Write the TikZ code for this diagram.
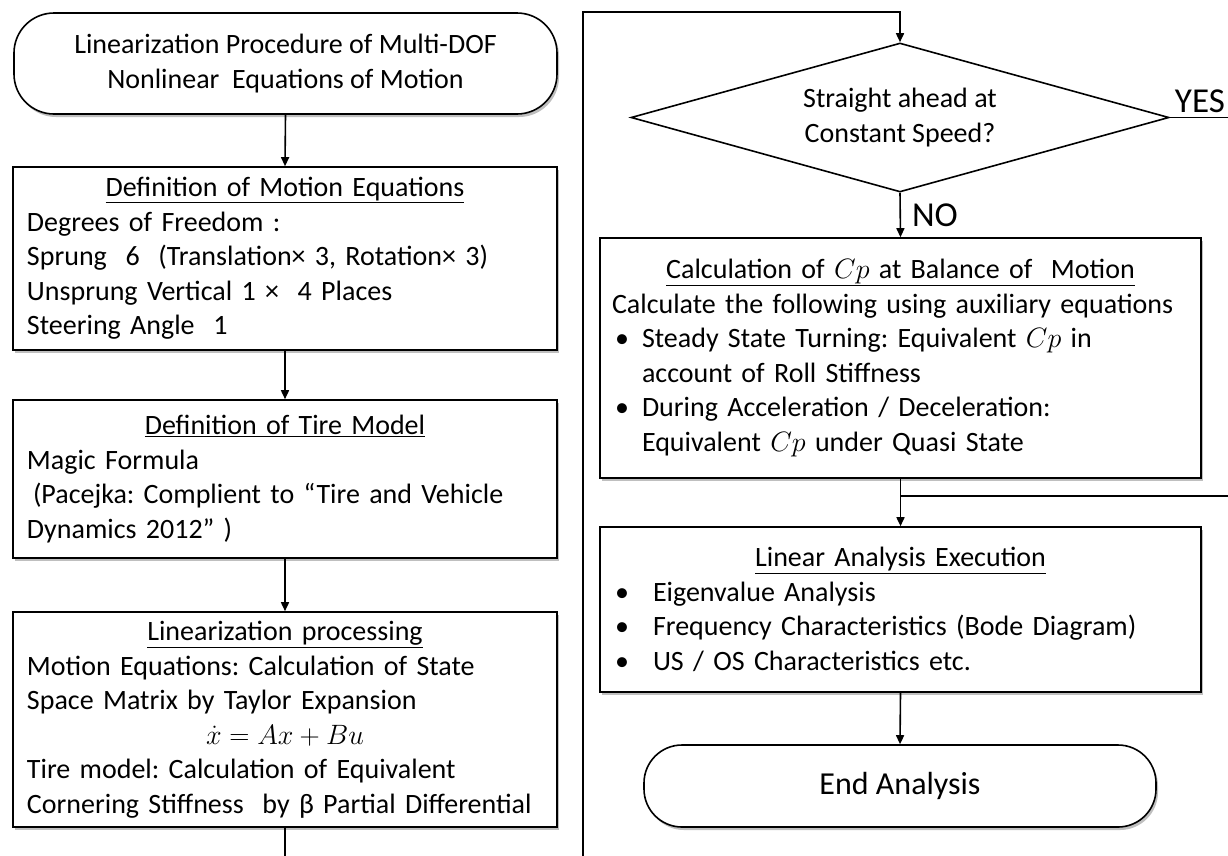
\RequirePackage{fix-cm}
\documentclass[tikz,border=0pt]{standalone}
\usepackage{fontspec}
\setmainfont{Carlito}
\usetikzlibrary{shapes.geometric,arrows.meta,shadows}
\frenchspacing
\begin{document}
\begin{tikzpicture}[x=1pt,y=-1pt,
  every node/.style={font=\fontsize{28}{34.5}\selectfont},
  ln/.style={line width=1.6pt},
  arr/.style={ln,-{Triangle[length=9pt,width=8pt]}},
  shd/.style={drop shadow={shadow xshift=2pt,shadow yshift=-3pt,opacity=0.25,fill=black}},
  procbox/.style={draw,ln,fill=white,shd,rectangle,inner ysep=0pt,align=left,anchor=center},
  leftbox/.style={procbox,inner xsep=14pt,text width=516pt,minimum width=544pt},
  rightbox/.style={procbox,inner xsep=12pt,text width=577pt,minimum width=601pt},
  termbox/.style={draw,ln,fill=white,shd,rounded corners=40pt,align=center,inner sep=0pt},
  bigtxt/.style={font=\fontsize{35}{40}\selectfont,inner sep=0pt}
]
\useasboundingbox (0,0) rectangle (1228,855);
\fill[white] (0,0) rectangle (1228,855);

% left column
\node[termbox,minimum width=543pt,minimum height=101pt] (t1) at (285.5,63.5)
  {Linearization Procedure of Multi-DOF\\Nonlinear\ \ Equations of Motion};

\node[leftbox,minimum height=183pt] (b1) at (285,258.5)
  {\makebox[\linewidth]{\underline{Definition of Motion Equations}}\\
   Degrees of Freedom\ :\\
   Sprung\ \ 6\ \ (Translation× 3, Rotation× 3)\\
   Unsprung Vertical 1 ×\ \ 4 Places\\
   Steering Angle\ \ 1};

\node[leftbox,minimum height=158pt] (b2) at (285,479)
  {\makebox[\linewidth]{\underline{Definition of Tire Model}}\\
   Magic Formula\\
   \hspace*{6pt}(Pacejka: Complient to “Tire and Vehicle\\
   Dynamics 2012” )};

\node[leftbox,minimum height=215pt] (b3) at (285,719.5)
  {\makebox[\linewidth]{\underline{Linearization processing}}\\
   Motion Equations: Calculation of State\\
   Space Matrix by Taylor Expansion\\
   \makebox[\linewidth]{$\dot{x} = Ax + Bu$}\\
   Tire model: Calculation of Equivalent\\
   Cornering Stiffness\ \ by β Partial Differential};

\draw[arr] (t1.south) -- (b1.north);
\draw[arr] (b1.south) -- (b2.north);
\draw[arr] (b2.south) -- (b3.north);
\coordinate (lb) at (285,858);
\draw[ln] (b3.south) -- (lb);

% right column
\coordinate (rb) at (583,858);
\coordinate (tl) at (583,12);

\node[draw,ln,diamond,aspect=3.6,minimum width=538pt,minimum height=149pt,
      inner sep=0pt,align=center,fill=white] (dia) at (900,117.5)
  {Straight ahead at\\Constant Speed?};

\draw[arr] (rb) -- (tl) -| (dia.north);

\node[rightbox,minimum height=240pt] (b4) at (900.5,358)
  {\makebox[\linewidth]{\underline{Calculation of $Cp$ at Balance of\ \ Motion}}\\
   Calculate the following using auxiliary equations\\
   \hspace*{3pt}\makebox[27pt][l]{•}Steady State Turning: Equivalent $Cp$ in\\
   \hspace*{30pt}account of Roll Stiffness\\
   \hspace*{3pt}\makebox[27pt][l]{•}During Acceleration / Deceleration:\\
   \hspace*{30pt}Equivalent $Cp$ under Quasi State};

\node[rightbox,minimum height=165pt] (b5) at (900.5,609.5)
  {\makebox[\linewidth]{\underline{Linear Analysis Execution}}\\
   \hspace*{3pt}\makebox[38pt][l]{•}Eigenvalue Analysis\\
   \hspace*{3pt}\makebox[38pt][l]{•}Frequency Characteristics (Bode Diagram)\\
   \hspace*{3pt}\makebox[38pt][l]{•}US / OS Characteristics etc.};

\node[termbox,rounded corners=38pt,minimum width=512pt,minimum height=82pt,
      font=\fontsize{32}{38}\selectfont] (e) at (900,786) {End Analysis};

\draw[arr] (dia.south) -- node[bigtxt,anchor=west,xshift=11pt]{NO} (b4.north);
\coordinate (yo) at (1230,117.5);
\draw[ln] (dia.east) -- node[bigtxt,anchor=south,yshift=4pt]{YES} (yo);
\coordinate (ri) at (1230,496);
\draw[ln] (ri) -- (ri -| b4.south);
\draw[arr] (b4.south) -- (b5.north);
\draw[arr] (b5.south) -- (e.north);
\end{tikzpicture}
\end{document}
